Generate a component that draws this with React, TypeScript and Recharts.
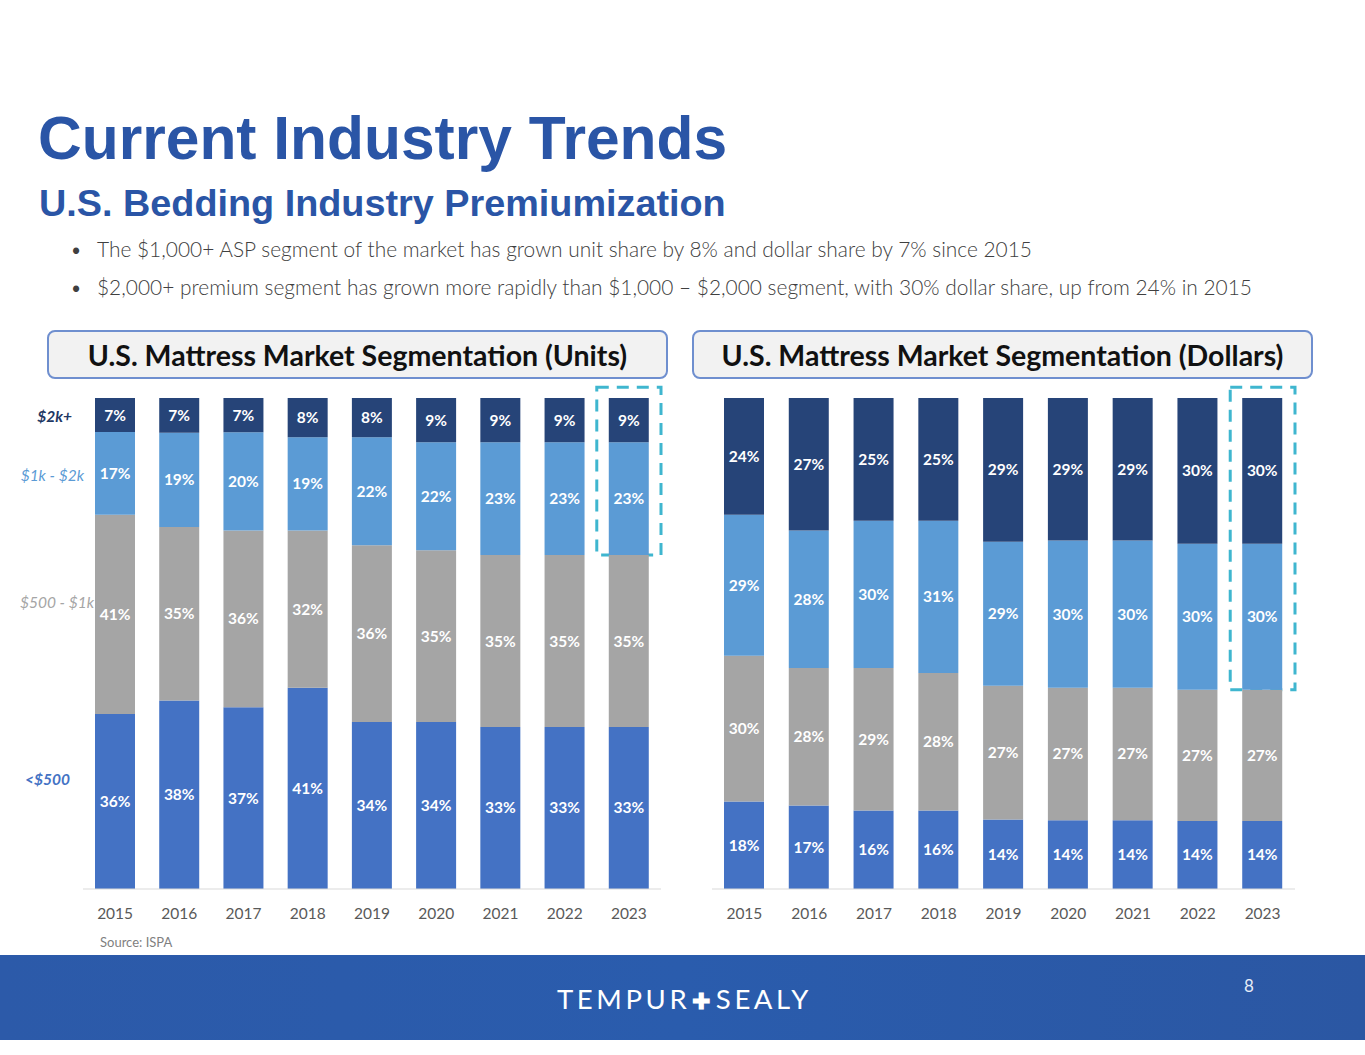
import React from "react";
import {
  BarChart,
  Bar,
  XAxis,
  YAxis,
  LabelList,
  ReferenceArea,
} from "recharts";

const years = ["2015", "2016", "2017", "2018", "2019", "2020", "2021", "2022", "2023"];

const unitsUnder500 = [36, 38, 37, 41, 34, 34, 33, 33, 33];
const units500to1k = [41, 35, 36, 32, 36, 35, 35, 35, 35];
const units1kto2k = [17, 19, 20, 19, 22, 22, 23, 23, 23];
const units2kPlus = [7, 7, 7, 8, 8, 9, 9, 9, 9];

const dollarsUnder500 = [18, 17, 16, 16, 14, 14, 14, 14, 14];
const dollars500to1k = [30, 28, 29, 28, 27, 27, 27, 27, 27];
const dollars1kto2k = [29, 28, 30, 31, 29, 30, 30, 30, 30];
const dollars2kPlus = [24, 27, 25, 25, 29, 29, 29, 30, 30];

const segmentNames = ["<$500", "$500 - $1k", "$1k - $2k", "$2k+"];

const bullets = [
  "The $1,000+ ASP segment of the market has grown unit share by 8% and dollar share by 7% since 2015",
  "$2,000+ premium segment has grown more rapidly than $1,000 \u2013 $2,000 segment, with 30% dollar share, up from 24% in 2015",
];

const series = [
  { key: "under500", color: "#4472C4", nameColor: "#4472C4", weight: 700, dx: -24, dy: -22 },
  { key: "mid", color: "#A5A5A5", nameColor: "#A5A5A5", weight: 400, dx: 0, dy: -12 },
  { key: "upper", color: "#5B9BD5", nameColor: "#5B9BD5", weight: 400, dx: -10, dy: 2 },
  { key: "premium", color: "#264478", nameColor: "#1F3864", weight: 700, dx: -22, dy: 1 },
];

const buildRows = (a: number[], b: number[], c: number[], d: number[]) =>
  years.map((year, i) => ({ year, under500: a[i], mid: b[i], upper: c[i], premium: d[i] }));

const unitsData = buildRows(unitsUnder500, units500to1k, units1kto2k, units2kPlus);
const dollarsData = buildRows(dollarsUnder500, dollars500to1k, dollars1kto2k, dollars2kPlus);

const FONT = "Lato, 'Open Sans', sans-serif";

// bottom-two share of the last year = lower edge of the highlighted box
const lastShare = (rows: typeof unitsData) => {
  const r = rows[rows.length - 1];
  return (r.under500 + r.mid) / (r.under500 + r.mid + r.upper + r.premium);
};

const segmentLabel =
  (name: string, color: string, weight: number, dx: number, dy: number) => (props: any) => {
    if (props.index !== 0) return null;
    const vb = props.viewBox ?? props;
    return (
      <text
        x={vb.x + dx - 1}
        y={vb.y + vb.height / 2 + dy}
        textAnchor="end"
        dominantBaseline="central"
        fill={color}
        fontSize={15.5}
        fontStyle="italic"
        fontWeight={weight}
        fontFamily={FONT}
      >
        {name}
      </text>
    );
  };

function SegmentChart({
  data,
  left,
  width,
  marginLeft,
  marginRight,
  showNames,
}: {
  data: typeof unitsData;
  left: number;
  width: number;
  marginLeft: number;
  marginRight: number;
  showNames?: boolean;
}) {
  const last = years[years.length - 1];
  return (
    <div style={{ position: "absolute", left, top: 380 }}>
      <BarChart
        width={width}
        height={560}
        data={data}
        stackOffset="expand"
        margin={{ top: 18, right: marginRight, left: marginLeft, bottom: 21 }}
      >
        <XAxis
          dataKey="year"
          height={30}
          axisLine={{ stroke: "#D9D9D9" }}
          tickLine={false}
          tickMargin={13}
          tick={{ fontSize: 15.5, fill: "#595959", fontFamily: FONT }}
          interval={0}
        />
        <YAxis hide domain={[0, 1]} />
        {series.map((s, si) => (
          <Bar
            key={s.key}
            dataKey={s.key}
            stackId="a"
            fill={s.color}
            barSize={40}
            isAnimationActive={false}
          >
            <LabelList
              dataKey={s.key}
              position="center"
              fill="#FFFFFF"
              fontSize={15.5}
              fontWeight={700}
              fontFamily={FONT}
              formatter={(v: any) => `${v}%`}
            />
            {showNames && (
              <LabelList
                dataKey={s.key}
                content={segmentLabel(segmentNames[si], s.nameColor, s.weight, s.dx, s.dy)}
              />
            )}
          </Bar>
        ))}
        <ReferenceArea
          x1={last}
          x2={last}
          y1={lastShare(data)}
          y2={1.022}
          ifOverflow="visible"
          fill="none"
          stroke="#3FB6CF"
          strokeWidth={3}
          strokeDasharray="12 8"
        />
      </BarChart>
    </div>
  );
}

const headerStyle = (left: number): React.CSSProperties => ({
  position: "absolute",
  left,
  top: 330,
  width: 617,
  height: 45,
  border: "2px solid #6F8FCF",
  borderRadius: 8,
  background: "#F2F2F2",
  display: "flex",
  alignItems: "center",
  justifyContent: "center",
  fontFamily: FONT,
  fontWeight: 700,
  fontSize: 28.5,
  color: "#111111",
});

export default function App() {
  return (
    <div
      style={{
        position: "absolute",
        left: 0,
        top: 0,
        width: 1365,
        height: 1055,
        background: "#FFFFFF",
        overflow: "hidden",
      }}
    >
      <div
        style={{
          position: "absolute",
          left: 38,
          top: 100,
          fontFamily: "'Liberation Sans', Arial, sans-serif",
          fontWeight: 700,
          fontSize: 60.5,
          lineHeight: "76px",
          color: "#2A55A6",
        }}
      >
        Current Industry Trends
      </div>
      <div
        style={{
          position: "absolute",
          left: 39,
          top: 180,
          fontFamily: "'Liberation Sans', Arial, sans-serif",
          fontWeight: 700,
          fontSize: 37.8,
          lineHeight: "46px",
          color: "#2A55A6",
        }}
      >
        U.S. Bedding Industry Premiumization
      </div>
      {bullets.map((b, i) => (
        <div
          key={i}
          style={{
            position: "absolute",
            left: 70,
            top: 235 + i * 38,
            fontFamily: FONT,
            fontWeight: 300,
            fontSize: 20.9,
            lineHeight: "28px",
            color: "#404040",
            whiteSpace: "nowrap",
          }}
        >
          <span style={{ display: "inline-block", width: 27 }}>{"\u2022"}</span>
          {b}
        </div>
      ))}

      <div style={headerStyle(47)}>U.S. Mattress Market Segmentation (Units)</div>
      <div style={headerStyle(692)}>U.S. Mattress Market Segmentation (Dollars)</div>

      <SegmentChart data={unitsData} left={0} width={680} marginLeft={83} marginRight={19} showNames />
      <SegmentChart data={dollarsData} left={630} width={680} marginLeft={82} marginRight={15} />

      <div
        style={{
          position: "absolute",
          left: 100,
          top: 934,
          fontFamily: FONT,
          fontSize: 13,
          color: "#7F7F7F",
        }}
      >
        Source: ISPA
      </div>

      <div
        style={{
          position: "absolute",
          left: 0,
          top: 955,
          width: 1365,
          height: 85,
          background: "linear-gradient(90deg, #2C5AA9 0%, #2A5CAD 50%, #2B57A3 100%)",
        }}
      >
        <div
          style={{
            position: "absolute",
            left: 0,
            width: 1365,
            top: 28,
            textAlign: "center",
            fontFamily: FONT,
            fontWeight: 400,
            fontSize: 27.5,
            letterSpacing: 3.6,
            color: "#FFFFFF",
            lineHeight: "32px",
          }}
        >
          <span style={{ marginLeft: 4 }}>TEMPUR</span>
          <span style={{ fontSize: 22, fontWeight: 900, margin: "0 2px" }}>{"\u271A"}</span>
          <span>SEALY</span>
        </div>
        <div
          style={{
            position: "absolute",
            left: 1244,
            top: 20,
            fontFamily: FONT,
            fontSize: 17,
            color: "#E6ECF7",
          }}
        >
          8
        </div>
      </div>
    </div>
  );
}
